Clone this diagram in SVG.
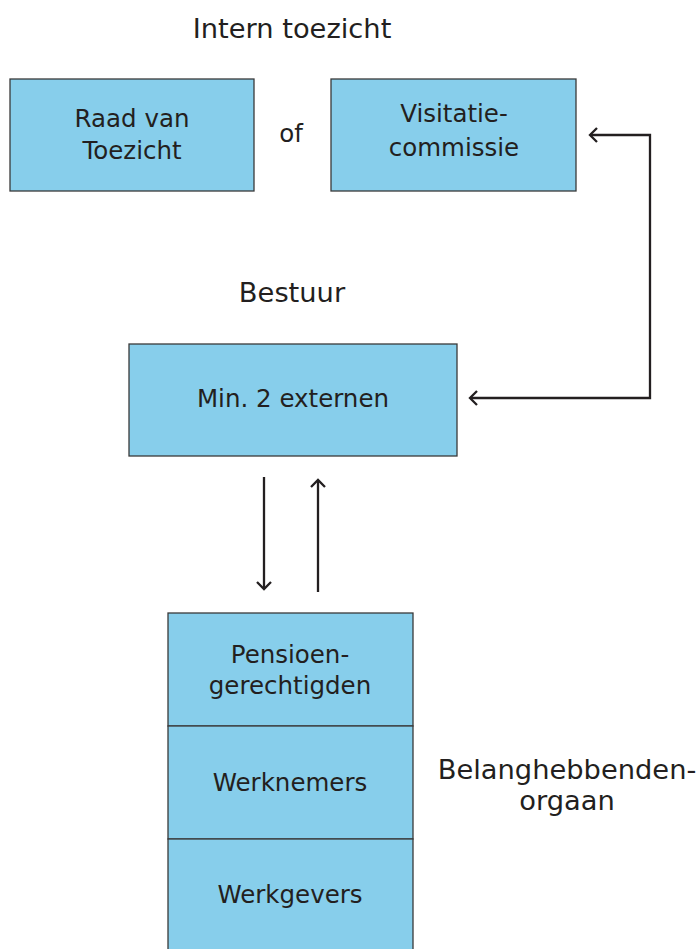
<svg xmlns="http://www.w3.org/2000/svg" width="697" height="949" viewBox="0 0 697 949">
<defs>
<style>
.box{fill:#87ceeb;stroke:#3a3a3a;stroke-width:1.3}
.t{font-family:"DejaVu Sans",Verdana,sans-serif;fill:#231f20;text-anchor:middle}
.lbl{font-size:24.5px}
.big{font-size:27.3px}
.con{fill:none;stroke:#231f20;stroke-width:2.3}
</style>
<marker id="ah" viewBox="0 0 22 22" refX="11" refY="11" markerWidth="22" markerHeight="22" markerUnits="userSpaceOnUse" orient="auto-start-reverse">
<path d="M4,4 L11,11 L4,18" fill="none" stroke="#231f20" stroke-width="2.3"/>
</marker>
</defs>
<rect width="697" height="949" fill="#ffffff"/>
<text class="t big" x="292" y="38">Intern toezicht</text>
<text class="t big" x="292" y="302">Bestuur</text>
<text class="t lbl" x="291" y="142">of</text>
<g id="raad">
<rect class="box" x="10" y="79" width="244" height="112"/>
<text class="t lbl" x="132" y="127">Raad van</text>
<text class="t lbl" x="132" y="159">Toezicht</text>
</g>
<g id="visitatie">
<rect class="box" x="331" y="79" width="245" height="112"/>
<text class="t lbl" x="454" y="122">Visitatie-</text>
<text class="t lbl" x="454" y="156">commissie</text>
</g>
<g id="bestuur">
<rect class="box" x="129" y="344" width="328" height="112"/>
<text class="t lbl" x="293" y="407">Min. 2 externen</text>
</g>
<g id="belanghebbenden">
<rect class="box" x="168" y="613" width="245" height="113"/>
<text class="t lbl" x="290" y="663">Pensioen-</text>
<text class="t lbl" x="290" y="694">gerechtigden</text>
<rect class="box" x="168" y="726" width="245" height="113"/>
<text class="t lbl" x="290" y="791">Werknemers</text>
<rect class="box" x="168" y="839" width="245" height="115"/>
<text class="t lbl" x="290" y="903">Werkgevers</text>
<text class="t big" x="567" y="779">Belanghebbenden-</text>
<text class="t big" x="567" y="810">orgaan</text>
</g>
<g id="connectors">
<path class="con" d="M470,398 L650,398 L650,135 L590,135" marker-start="url(#ah)" marker-end="url(#ah)"/>
<path class="con" d="M264,477 L264,589" marker-end="url(#ah)"/>
<path class="con" d="M318,592 L318,480" marker-end="url(#ah)"/>
</g>
</svg>
